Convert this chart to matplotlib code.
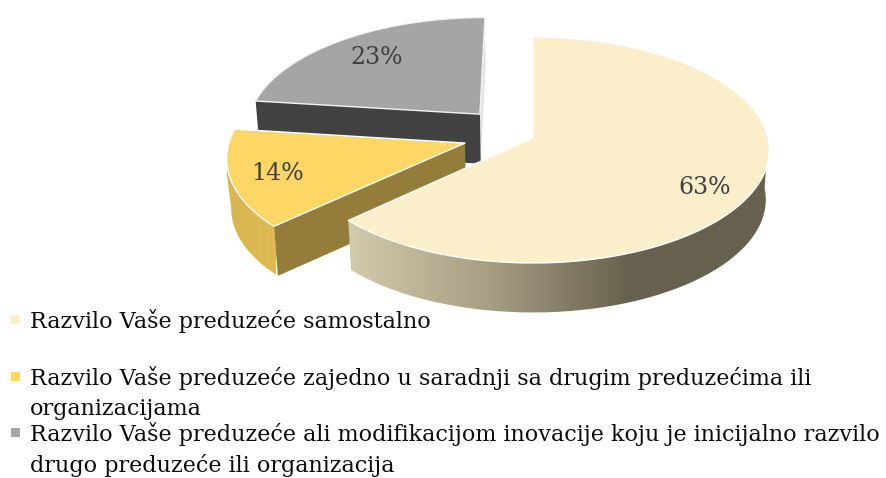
import numpy as np
import matplotlib
matplotlib.use("Agg")
import matplotlib.pyplot as plt
from matplotlib.patches import Polygon, Rectangle
from matplotlib.colors import LinearSegmentedColormap

values = [63, 14, 23]
value_labels = ["63%", "14%", "23%"]
top_colors = ["#fbeecb", "#fcd766", "#a5a5a5"]
legend_lines = [
    ["Razvilo Vaše preduzeće samostalno"],
    ["Razvilo Vaše preduzeće zajedno u saradnji sa drugim preduzećima ili", "organizacijama"],
    ["Razvilo Vaše preduzeće ali modifikacijom inovacije koju je inicijalno razvilo",
     "drugo preduzeće ili organizacija"],
]

# projection of the pie plane onto the picture
CX, CY, A, B, P = 533, 138, 235, 111.7, 0.106
DEPTH, SHRINK = 49.5, 0.985
OFFSETS = [(0, 0), (-0.288, 0.045), (-0.231, -0.218)]
LABEL_POS = [(705, 188), (277, 173), (377, 57)]
FONT = "DejaVu Serif"
TEXT_SIZE, LABEL_SIZE = 16, 17


def project(X, v):
    d = 1 - P * v
    return CX + A * X / d, CY + B * v / d


def rim(i, a0, a1, n=120):
    t = np.radians(np.linspace(a0, a1, n))
    return np.column_stack(project(OFFSETS[i][0] + np.sin(t), OFFSETS[i][1] - np.cos(t)))


def lower(pts):
    pts = np.atleast_2d(pts)
    return np.column_stack((CX + (pts[:, 0] - CX) * SHRINK, pts[:, 1] + DEPTH))


def gradient_side(ax, pts, stops, x0, x1):
    cmap = LinearSegmentedColormap.from_list("g", stops)
    im = ax.imshow(np.linspace(0, 1, 256)[None, :], cmap=cmap, aspect="auto",
                   extent=(x0, x1, 478, 0), interpolation="bilinear", zorder=ax._z)
    patch = Polygon(pts, closed=True, transform=ax.transData, fc="none", ec="none")
    ax.add_patch(patch)
    im.set_clip_path(patch)
    ax._z += 1


fig = plt.figure(figsize=(8.87, 4.78), dpi=100)
ax = fig.add_axes([0, 0, 1, 1])
ax._z = 1

ends = np.cumsum(values) / sum(values) * 360
starts = np.r_[0, ends[:-1]]
apex = [np.array(project(*o)) for o in OFFSETS]


def add(pts, color, ec="none", lw=0):
    ax.add_patch(Polygon(pts, closed=True, fc=color, ec=ec, lw=lw, zorder=ax._z, joinstyle="round"))
    ax._z += 1


# slices are painted back to front: grey, yellow, cream
# grey
r = rim(2, starts[2], ends[2])
add(np.vstack((r[-1], apex[2], lower(apex[2]), lower(r[-1]))), "#e4e4e4")
add(np.vstack((r[0], apex[2], lower(apex[2]), lower(r[0]))), "#424242")
add(np.vstack((r, apex[2])), top_colors[2], "#f2f2f2", 1.0)

# yellow
r = rim(1, starts[1], ends[1])
k = int(np.argmin(r[:, 0]))
vis = r[:k + 1]
drop = vis[-1] + (0, 13)
gradient_side(ax, np.vstack((vis, drop, lower(vis)[::-1])), ["#d8b550", "#e0bb55"], 227, 276)
add(np.vstack((r[0], apex[1], lower(apex[1]), lower(r[0]))), "#947d3a")
add(np.vstack((r, apex[1])), top_colors[1], "#ffffff", 1.0)

# cream
r = rim(0, starts[0], ends[0], 300)
side = r[r[:, 1] > CY]
gradient_side(ax, np.vstack((side, lower(side)[::-1])),
              ["#d3cbae", "#a89e83", "#67614f", "#67614f"], 347, 770)
add(np.vstack((r, apex[0])), top_colors[0], "#ffffff", 1.0)

for lab, (x, y) in zip(value_labels, LABEL_POS):
    ax.text(x, y, lab, ha="center", va="center", family=FONT, fontsize=LABEL_SIZE,
            color="#404040", zorder=50)

# legend
baselines = [[328], [385, 415], [441, 472]]
square_tops = [315, 372, 428]
for lines, bases, top, col in zip(legend_lines, baselines, square_tops, top_colors):
    ax.add_patch(Rectangle((11, top), 9, 9, fc=col, ec="none", zorder=50))
    for line, b in zip(lines, bases):
        ax.text(30, b, line, ha="left", va="baseline", family=FONT, fontsize=TEXT_SIZE,
                color="#0d0d0d", zorder=50)

ax.set_xlim(0, 887)
ax.set_ylim(478, 0)
ax.axis("off")
fig.savefig("out.png", dpi=100, facecolor="white")
